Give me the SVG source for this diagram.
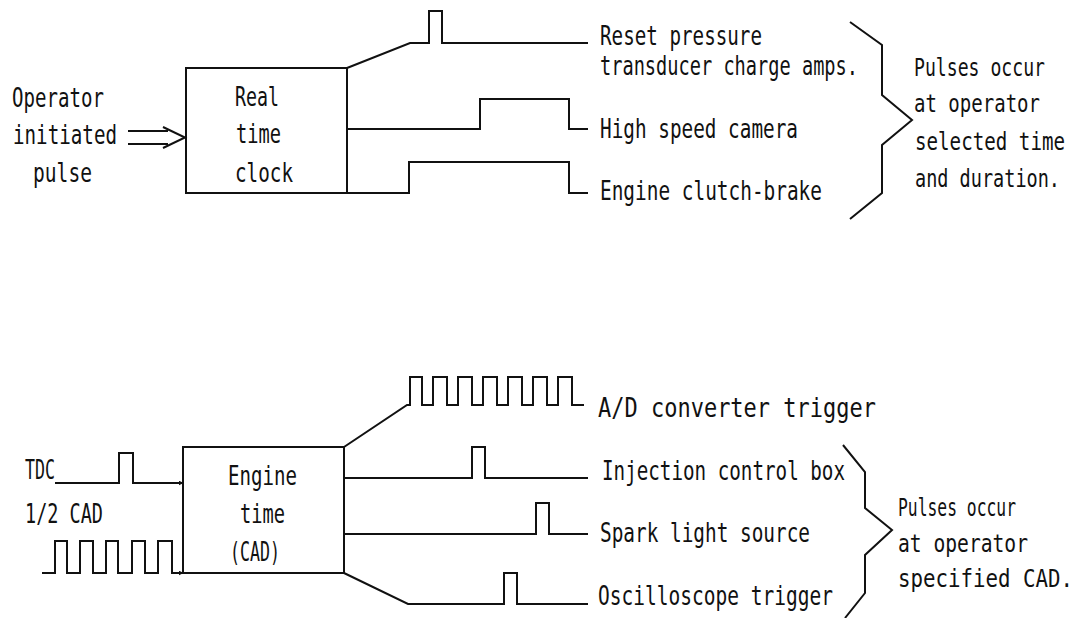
<svg xmlns="http://www.w3.org/2000/svg" width="1077" height="618" viewBox="0 0 1077 618">
<style>
  .bg { fill: #ffffff; }
  .box { fill: none; stroke: #111; stroke-width: 2; }
  .wire { fill: none; stroke: #111; stroke-width: 2; stroke-linejoin: miter; }
  .t { font-family: "DejaVu Sans Mono", "Liberation Mono", monospace; font-size: 19px; fill: #111; }
  .n { font-family: "DejaVu Sans Mono", "Liberation Mono", monospace; font-size: 19px; fill: #111; }
</style>
<defs>
  <marker id="dot" viewBox="0 0 8 8" refX="7" refY="4" markerWidth="5" markerHeight="5" markerUnits="userSpaceOnUse" orient="auto">
    <path d="M0,0 L8,4 L0,8 Z" fill="#111"/>
  </marker>
</defs>
<rect class="bg" x="0" y="0" width="1077" height="618"/>

<g id="input-operator">
  <text class="t" transform="translate(12,107) scale(1,1.4)" textLength="92" lengthAdjust="spacingAndGlyphs">Operator</text>
  <text class="t" transform="translate(13,144) scale(1,1.4)" textLength="104" lengthAdjust="spacingAndGlyphs">initiated</text>
  <text class="t" transform="translate(33,182) scale(1,1.4)" textLength="59" lengthAdjust="spacingAndGlyphs">pulse</text>
</g>

<g id="node-rtc">
  <rect class="box" x="186" y="68" width="161" height="125"/>
  <text class="t" transform="translate(235,106) scale(1,1.4)" textLength="44" lengthAdjust="spacingAndGlyphs">Real</text>
  <text class="t" transform="translate(236,143) scale(1,1.4)" textLength="45" lengthAdjust="spacingAndGlyphs">time</text>
  <text class="t" transform="translate(235,182) scale(1,1.4)" textLength="58" lengthAdjust="spacingAndGlyphs">clock</text>
</g>

<g id="node-engine">
  <rect class="box" x="183" y="447" width="161" height="126"/>
  <text class="t" transform="translate(228,485) scale(1,1.4)" textLength="69" lengthAdjust="spacingAndGlyphs">Engine</text>
  <text class="t" transform="translate(240,523) scale(1,1.4)" textLength="45" lengthAdjust="spacingAndGlyphs">time</text>
  <text class="t" transform="translate(230,561) scale(1,1.4)" textLength="50" lengthAdjust="spacingAndGlyphs">(CAD)</text>
</g>

<g id="input-tdc">
  <text class="t" transform="translate(25,479) scale(1,1.4)" textLength="30" lengthAdjust="spacingAndGlyphs">TDC</text>
  <text class="t" transform="translate(25,523) scale(1,1.4)" textLength="78" lengthAdjust="spacingAndGlyphs">1/2 CAD</text>
</g>

<g id="outputs-top">
  <text class="t" transform="translate(600,45) scale(1,1.4)" textLength="162" lengthAdjust="spacingAndGlyphs">Reset pressure</text>
  <text class="t" transform="translate(600,75) scale(1,1.4)" textLength="258" lengthAdjust="spacingAndGlyphs">transducer charge amps.</text>
  <text class="t" transform="translate(600,138) scale(1,1.4)" textLength="198" lengthAdjust="spacingAndGlyphs">High speed camera</text>
  <text class="t" transform="translate(600,200) scale(1,1.4)" textLength="222" lengthAdjust="spacingAndGlyphs">Engine clutch-brake</text>
</g>

<g id="outputs-bottom">
  <text class="t" transform="translate(598,417) scale(1,1.4)" textLength="278" lengthAdjust="spacingAndGlyphs">A/D converter trigger</text>
  <text class="t" transform="translate(602,480) scale(1,1.4)" textLength="243" lengthAdjust="spacingAndGlyphs">Injection control box</text>
  <text class="t" transform="translate(600,542) scale(1,1.4)" textLength="210" lengthAdjust="spacingAndGlyphs">Spark light source</text>
  <text class="t" transform="translate(598,605) scale(1,1.4)" textLength="235" lengthAdjust="spacingAndGlyphs">Oscilloscope trigger</text>
</g>

<g id="note-top">
  <path class="wire" d="M850,22 L882,45 L882,95 L912,120 L882,145 L882,193 L850,219"/>
  <text class="n" transform="translate(914,76) scale(1,1.3)" textLength="131" lengthAdjust="spacingAndGlyphs">Pulses occur</text>
  <text class="n" transform="translate(914,112) scale(1,1.3)" textLength="126" lengthAdjust="spacingAndGlyphs">at operator</text>
  <text class="n" transform="translate(915,150) scale(1,1.3)" textLength="150" lengthAdjust="spacingAndGlyphs">selected time</text>
  <text class="n" transform="translate(915,187) scale(1,1.3)" textLength="145" lengthAdjust="spacingAndGlyphs">and duration.</text>
</g>

<g id="note-bottom">
  <path class="wire" d="M843,445 L865,472 L865,508 L892,530 L865,555 L865,593 L845,618"/>
  <text class="n" transform="translate(898,516) scale(1,1.3)" textLength="118" lengthAdjust="spacingAndGlyphs">Pulses occur</text>
  <text class="n" transform="translate(898,552) scale(1,1.3)" textLength="130" lengthAdjust="spacingAndGlyphs">at operator</text>
  <text class="n" transform="translate(898,587) scale(1,1.3)" textLength="175" lengthAdjust="spacingAndGlyphs">specified CAD.</text>
</g>

<g id="connectors">
  <!-- operator double arrow -->
  <path class="wire" d="M128,131 L168,131 M128,144 L168,144 M163,127 L185,137.5 L163,148"/>
  <!-- real time clock outputs -->
  <path class="wire" d="M347,68 L410,43 L429,43 L429,11 L442,11 L442,43 L588,43"/>
  <path class="wire" d="M347,129 L480,129 L480,99 L569,99 L569,129 L588,129"/>
  <path class="wire" d="M347,193 L409,193 L409,162 L569,162 L569,193 L588,193"/>
  <!-- engine time inputs -->
  <path class="wire" d="M55,483 L119,483 L119,453 L133,453 L133,483 L183,483" marker-end="url(#dot)"/>
  <path class="wire" d="M42,573 L55,573 L55,541 L67,541 L67,573 L80,573 L80,541 L93,541 L93,573 L106,573 L106,541 L118,541 L118,573 L132,573 L132,541 L145,541 L145,573 L158,573 L158,541 L172,541 L172,573 L183,573" marker-end="url(#dot)"/>
  <!-- engine time outputs -->
  <path class="wire" d="M344,447 L407,405 L410,405 L410,377 L422,377 L422,405 L433,405 L433,377 L447,377 L447,405 L458,405 L458,377 L472,377 L472,405 L483,405 L483,377 L497,377 L497,405 L508,405 L508,377 L522,377 L522,405 L533,405 L533,377 L547,377 L547,405 L558,405 L558,377 L572,377 L572,405 L584,405"/>
  <path class="wire" d="M344,478 L472,478 L472,447 L485,447 L485,478 L588,478"/>
  <path class="wire" d="M344,534 L536,534 L536,503 L549,503 L549,534 L588,534"/>
  <path class="wire" d="M344,573 L408,604 L504,604 L504,573 L517,573 L517,604 L588,604"/>
</g>
</svg>
